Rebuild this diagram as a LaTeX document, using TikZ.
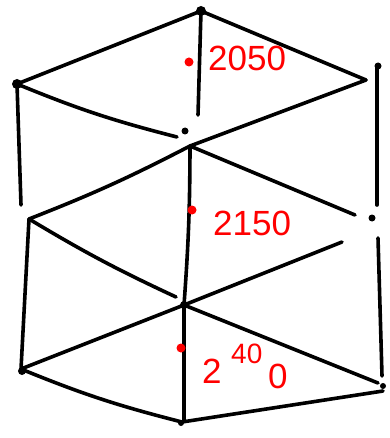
\documentclass[tikz,border=0pt]{standalone}
\usepackage{fontspec}
\setsansfont{Liberation Sans}
\begin{document}
\begin{tikzpicture}[x=1pt,y=-1pt,
  edge/.style={line width=3.6pt,line cap=round,black},
  blob/.style={circle,fill=black,inner sep=0pt,minimum size=#1},
  rdot/.style={circle,fill=red,inner sep=0pt,minimum size=#1},
  val/.style={red,font=\sffamily\fontsize{35}{35}\selectfont,inner sep=0pt,anchor=west}]
\useasboundingbox (0,0) rectangle (389,438);
% vertices
\coordinate (T) at (201,11);
\coordinate (L1) at (17,84);
\coordinate (R1) at (366,80);
\coordinate (R1v) at (377,66);
\coordinate (Tv) at (198,115);
\coordinate (C1) at (190,146);
\coordinate (C1l) at (177,137);
\coordinate (L1v) at (21,205);
\coordinate (R1b) at (377,205);
\coordinate (L2) at (29,219);
\coordinate (R2) at (372,218);
\coordinate (R2a) at (355,215);
\coordinate (R2b) at (342,242);
\coordinate (R2v) at (378,238);
\coordinate (C2) at (184,305);
\coordinate (C2l) at (176,297);
\coordinate (L3) at (21,369);
\coordinate (R3) at (378,383);
\coordinate (R3v) at (382,376);
\coordinate (R3c) at (383,391);
\coordinate (B) at (182,422);
\coordinate (Bt) at (184,420);
% dots
\node[blob=10pt] (dT) at (T) {};
\node[blob=10pt] (dL1) at (L1) {};
\node[blob=7pt] (dC1) at (185,131) {};
\node[blob=7pt] (dR1) at (378,66) {};
\node[blob=7pt] (dR2) at (372,218) {};
\node[blob=8pt] (dC2) at (184,305) {};
\node[blob=8pt] (dL3) at (22,371) {};
\node[blob=6pt] (dB) at (181,423) {};
\node[blob=6pt] (dR3) at (383,386) {};
% edges
\draw[edge] (T) -- (L1);
\draw[edge] (T) -- (R1);
\draw[edge] (T) -- (Tv);
\draw[edge] (L1) to[bend right=4] (C1l);
\draw[edge] (R1) -- (C1);
\draw[edge] (L1) -- (L1v);
\draw[edge] (R1v) -- (R1b);
\draw[edge] (C1) to[bend left=2] (C2);
\draw[edge] (C1) to[bend left=3] (L2);
\draw[edge] (C1) -- (R2a);
\draw[edge] (L2) to[bend right=3] (C2l);
\draw[edge] (R2b) -- (C2);
\draw[edge] (L2) -- (L3);
\draw[edge] (R2v) -- (R3v);
\draw[edge] (C2) -- (L3);
\draw[edge] (C2) -- (R3);
\draw[edge] (L3) to[bend right=4] (B);
\draw[edge] (B) -- (R3c);
\draw[edge] (C2) -- (Bt);
% red labels
\node[rdot=9pt] (p1) at (189,62) {};
\node[val] (v1) at (208,58) {2050};
\node[rdot=9pt] (p2) at (192,210) {};
\node[val] (v2) at (213,223) {2150};
\node[rdot=9pt] (p3) at (181,348) {};
\node[val] (v3) at (202,371) {2};
\node[red,font=\sffamily\fontsize{28}{28}\selectfont,inner sep=0pt,anchor=west] (v4) at (231,354) {40};
\node[val] (v5) at (268,376) {0};
\end{tikzpicture}
\end{document}
